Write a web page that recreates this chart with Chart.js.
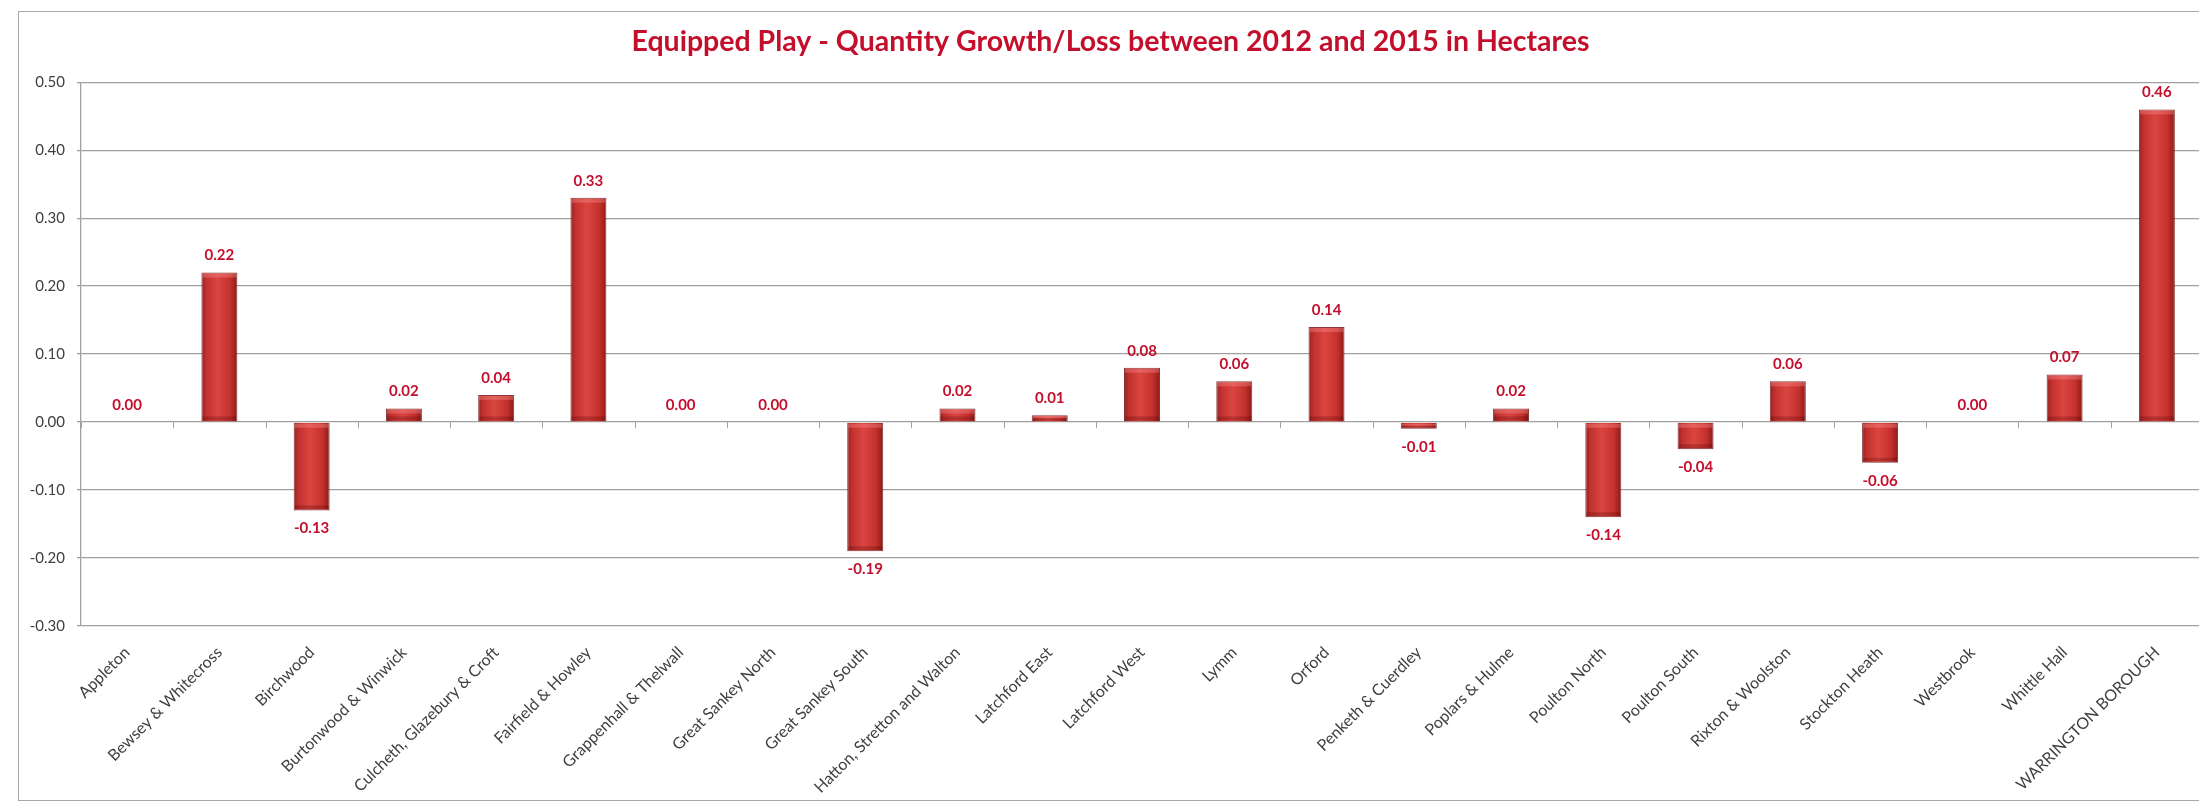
<!DOCTYPE html>
<html>
<head>
<meta charset="utf-8">
<script src="https://cdn.jsdelivr.net/npm/chart.js@4.4.1/dist/chart.umd.min.js"></script>
<style>
    html, body { margin: 0; padding: 0; background: #fff; overflow: hidden; }
    #wrap { position: relative; width: 2203px; height: 801px; }
    #frame {
        position: absolute; left: 18px; top: 11px; width: 2300px; height: 788px;
        border: 1px solid #a8a8a8; pointer-events: none;
    }
</style>
</head>
<body>
<div id="wrap">
    <canvas id="myChart" width="2203" height="801"></canvas>
    <div id="frame"></div>
</div>
<script>
const wards = [
    "Appleton", "Bewsey & Whitecross", "Birchwood", "Burtonwood & Winwick",
    "Culcheth, Glazebury & Croft", "Fairfield & Howley", "Grappenhall & Thelwall",
    "Great Sankey North", "Great Sankey South", "Hatton, Stretton and Walton",
    "Latchford East", "Latchford West", "Lymm", "Orford", "Penketh & Cuerdley",
    "Poplars & Hulme", "Poulton North", "Poulton South", "Rixton & Woolston",
    "Stockton Heath", "Westbrook", "Whittle Hall", "WARRINGTON BOROUGH"
];
const growth = [
    0.00, 0.22, -0.13, 0.02, 0.04, 0.33, 0.00, 0.00, -0.19, 0.02, 0.01, 0.08,
    0.06, 0.14, -0.01, 0.02, -0.14, -0.04, 0.06, -0.06, 0.00, 0.07, 0.46
];
const yTicks = [0.5, 0.4, 0.3, 0.2, 0.1, 0, -0.1, -0.2, -0.3];

const RED = "#c40f2c";

// bar fill: red cylinder look, gradient across each bar
const barFill = (ctx) => {
    const chart = ctx.chart;
    const x = chart.scales.x;
    if (!chart.chartArea || !x || ctx.dataIndex === undefined) return "#c8322e";
    const cx = x.getPixelForValue(ctx.dataIndex);
    const half = x.width / wards.length * 0.39 / 2;
    if (!isFinite(cx) || !isFinite(half) || half <= 0) return "#c8322e";
    const g = chart.ctx.createLinearGradient(cx - half, 0, cx + half, 0);
    g.addColorStop(0, "#9a2224");
    g.addColorStop(0.15, "#c3322f");
    g.addColorStop(0.45, "#da4540");
    g.addColorStop(0.8, "#c4312d");
    g.addColorStop(1, "#8a1a18");
    return g;
};

// bevel: light strip on top of each bar, darker strip at the bottom
const bevel = {
    id: "bevel",
    afterDatasetsDraw(chart) {
        const { ctx } = chart;
        const bars = chart.getDatasetMeta(0).data;
        ctx.save();
        bars.forEach((bar) => {
            const { x, y, base, width } = bar.getProps(["x", "y", "base", "width"], true);
            const top = Math.min(y, base);
            const bottom = Math.max(y, base);
            const h = bottom - top;
            if (h < 3) return;
            const band = Math.min(4, h / 3);
            ctx.fillStyle = "rgba(255, 150, 150, 0.35)";
            ctx.fillRect(x - width / 2 + 1, top + 1, width - 2, band);
            ctx.fillStyle = "rgba(80, 0, 0, 0.25)";
            ctx.fillRect(x - width / 2 + 1, bottom - band - 1, width - 2, band);
        });
        ctx.restore();
    },
};

// small tick marks on the zero line, between categories (excel style)
const zeroTicks = {
    id: "zeroTicks",
    afterDatasetsDraw(chart) {
        const { ctx, scales: { x, y } } = chart;
        const y0 = y.getPixelForValue(0);
        ctx.save();
        ctx.strokeStyle = "#a0a0a0";
        ctx.lineWidth = 1;
        ctx.beginPath();
        for (let i = 0; i <= wards.length; i++) {
            const px = Math.round(x.getPixelForValue(i - 0.5)) + 0.5;
            ctx.moveTo(px, y0);
            ctx.lineTo(px, y0 + 6);
        }
        ctx.stroke();
        ctx.restore();
    },
};

// value labels above / below the bars
const valueLabels = {
    id: "valueLabels",
    afterDatasetsDraw(chart) {
        const { ctx, scales: { x, y } } = chart;
        ctx.save();
        ctx.font = "bold 15px Lato";
        ctx.fillStyle = RED;
        ctx.textAlign = "center";
        ctx.textBaseline = "middle";
        growth.forEach((v, i) => {
            const px = x.getPixelForValue(i);
            const py = y.getPixelForValue(v);
            const off = v < 0 ? 18 : -17;
            ctx.fillText(v.toFixed(2), px, py + off);
        });
        ctx.restore();
    },
};

const ctx = document.getElementById("myChart").getContext("2d");
const myChart = new Chart(ctx, {
    type: "bar",
    data: {
        labels: wards,
        datasets: [{
            label: "Growth/Loss (ha)",
            data: growth,
            backgroundColor: barFill,
            borderColor: "rgba(110, 18, 18, 0.85)",
            borderWidth: 1,
            barPercentage: 0.39,
            categoryPercentage: 1,
        }],
    },
    options: {
        responsive: false,
        animation: false,
        layout: { padding: { left: 18, top: 12, right: 0, bottom: 1 } },
        plugins: {
            legend: { display: false },
            tooltip: { enabled: false },
            title: {
                display: true,
                text: "Equipped Play - Quantity Growth/Loss between 2012 and 2015 in Hectares",
                color: RED,
                font: { family: "Lato", size: 28.5, weight: "bold", lineHeight: 1.2 },
                padding: { top: 13, bottom: 23 },
            },
        },
        scales: {
            x: {
                grid: { display: false },
                border: { display: false },
                ticks: {
                    color: "#404040",
                    font: { family: "Lato", size: 16 },
                    maxRotation: 45,
                    minRotation: 45,
                    autoSkip: false,
                    padding: 9,
                },
                afterFit: (scale) => { scale.height = 174; },
            },
            y: {
                min: -0.3,
                max: 0.5,
                afterBuildTicks: (scale) => {
                    scale.ticks = yTicks.map((v) => ({ value: v }));
                },
                grid: {
                    color: "#a0a0a0",
                    lineWidth: 1.3,
                    tickLength: 4,
                },
                border: { display: true, color: "#a0a0a0", width: 1.3 },
                ticks: {
                    color: "#404040",
                    font: { family: "Lato", size: 15 },
                    padding: 12,
                    callback: (v) => Number(v).toFixed(2),
                },
                afterFit: (scale) => { scale.width = 63; },
            },
        },
    },
    plugins: [bevel, zeroTicks, valueLabels],
});
</script>
</body>
</html>
